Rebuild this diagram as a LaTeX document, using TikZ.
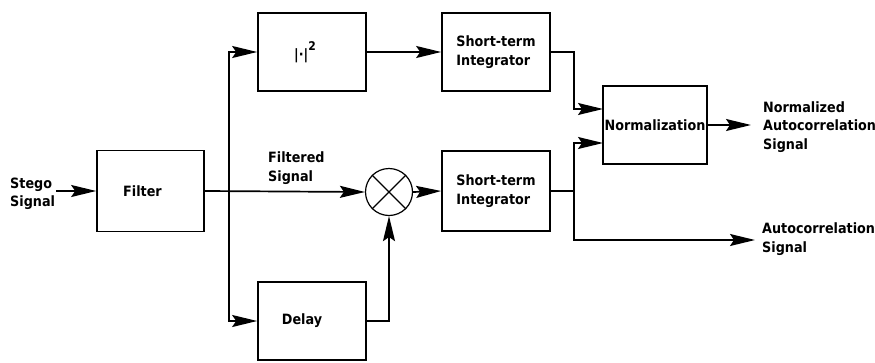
\documentclass[tikz,border=0pt]{standalone}
\usepackage{fontspec}
\setmainfont{DejaVu Sans Condensed}
\usetikzlibrary{arrows.meta}
\begin{document}
\begin{tikzpicture}[x=1pt,y=-1pt,
  wire/.style={line width=1.7pt},
  arr/.style={wire,-{Stealth[length=25pt,width=12pt,inset=4pt]}},
  txt/.style={font=\fontsize{14.2}{18.5}\selectfont\bfseries},
  blk/.style={draw,line width=1.7pt,rectangle,minimum width=108pt,minimum height=78pt,
    inner sep=0pt,txt,align=left},
  lbl/.style={inner sep=0pt,txt,align=left,anchor=west},
  mixer/.style={draw,line width=1.2pt,circle,minimum size=47pt,inner sep=0pt}]
\useasboundingbox (0,0) rectangle (875,362);

% processing blocks
\node[blk,minimum width=107pt,minimum height=81pt] (filter) at (150.5,191) {Filter\hspace*{16pt}};
\node[blk] (sq) at (312,52) {|·|\raisebox{9pt}{\fontsize{12}{12}\selectfont 2}\hspace*{14pt}};
\node[blk] (int1) at (496,52) {Short-term\\Integrator\hspace*{4pt}};
\node[mixer] (mult) at (389,192) {};
\node[blk,minimum height=80pt] (int2) at (496,191) {Short-term\\Integrator\hspace*{4pt}};
\node[blk] (delay) at (312,321) {Delay\hspace*{20pt}};
\node[blk,minimum width=104pt] (norm) at (655,125) {Normalization};

% multiplier cross
\draw[line width=1.2pt] (mult.north east) -- (mult.south west)
                        (mult.north west) -- (mult.south east);

% signal labels
\node[lbl] (stego) at (10,194) {Stego\\Signal};
\node[lbl] (filt) at (268,168) {Filtered\\Signal};
\node[lbl] (nac) at (763,127) {Normalized\\Autocorrelation\\Signal};
\node[lbl] (ac) at (762,239) {Autocorrelation\\Signal};

% junction and port points
\coordinate (sin) at (56,191);
\coordinate (split) at (229,191);
\coordinate (n1) at (603,109);
\coordinate (n2) at (603,143);
\coordinate (nout) at (751,125);
\coordinate (acout) at (755,240);

% connectors
\draw[arr] (sin) -- (filter.west);
\draw[arr] (filter.east) -- (mult.west);
\draw[arr] (split) |- (sq.west);
\draw[arr] (split) |- (delay.west);
\draw[arr] (sq.east) -- (int1.west);
\draw[arr] (mult.east) -- (int2.west);
\draw[arr] (delay.east) -| (mult.south);
\draw[arr] (int1.east) -- ++(23,0) |- (n1);
\draw[arr] (int2.east) -- ++(23,0) |- (n2);
\draw[arr] (int2.east) -- ++(23,0) |- (acout);
\draw[arr] (norm.east) -- (nout);
\end{tikzpicture}
\end{document}
